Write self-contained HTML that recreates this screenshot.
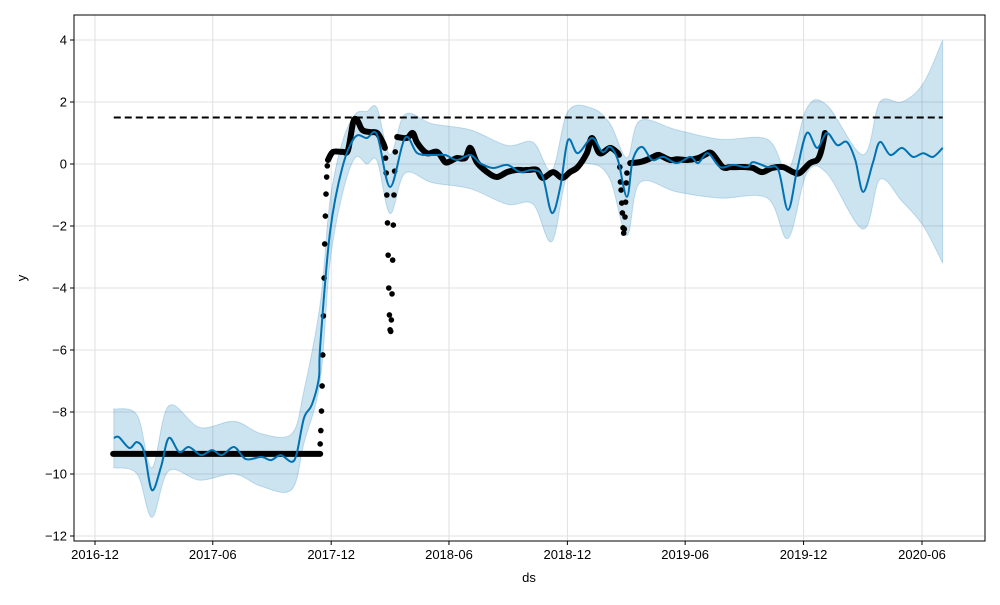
<!DOCTYPE html>
<html><head><meta charset="utf-8"><style>
body{margin:0;background:#fff;font-family:"Liberation Sans",sans-serif;}
svg text{font-family:"Liberation Sans",sans-serif;font-size:13px;fill:#000;}
</style></head><body>
<svg id="chart" width="1000" height="600" xmlns="http://www.w3.org/2000/svg">
<rect x="0" y="0" width="1000" height="600" fill="#fff"/>
<g id="grid"></g><g id="band"></g><g id="cap"></g><g id="obs"></g><g id="fc"></g><g id="axes"></g>
</svg>
<script>
// days since 2016-12-01
const xTickLabels=["2016-12","2017-06","2017-12","2018-06","2018-12","2019-06","2019-12","2020-06"];
const xTickDays=[0,182,365,547,730,912,1095,1278];
const yTicks=[-12,-10,-8,-6,-4,-2,0,2,4];
const fcDays=[29,37,53,65,76,88,102,114,130,145,164,181,196,215,233,257,272,287,304,312,323,335,346,348,363,382,402,420,436,456,479,498,521,541,559,580,595,615,637,657,677,692,706,719,731,746,768,784,796,808,822,831,845,861,878,899,920,932,947,966,986,1008,1017,1039,1056,1071,1085,1100,1116,1131,1147,1162,1175,1187,1202,1213,1229,1247,1264,1280,1295,1310];
const fcValues=[-8.84,-8.81,-9.16,-8.97,-9.29,-10.52,-9.77,-8.84,-9.29,-9.13,-9.39,-9.23,-9.39,-9.13,-9.52,-9.45,-9.55,-9.39,-9.61,-9.32,-8.19,-7.77,-6.9,-5.87,-2.23,-0.13,0.87,0.84,0.94,-0.74,0.84,0.35,0.29,0.29,0.13,0.29,0.03,-0.13,-0.03,-0.26,-0.19,-0.42,-1.58,-0.74,0.77,0.35,0.84,0.39,0.55,0.13,-1.06,0.13,0.55,0.13,0.23,0.03,0.23,0.03,0.35,-0.1,-0.03,-0.1,0.06,-0.1,-0.19,-1.48,-0.19,1.0,0.52,1.0,0.61,0.71,0.13,-0.9,0.03,0.71,0.29,0.52,0.23,0.35,0.23,0.52];
const bandDays=[29,65,88,114,162,215,257,304,323,348,363,382,402,420,436,456,479,521,580,637,677,706,731,768,796,822,842,899,966,1039,1071,1100,1131,1187,1213,1247,1280,1310];
const bandUpper=[-7.9,-8.1,-9.8,-7.8,-8.5,-8.3,-8.7,-8.7,-7.3,-4.5,-1.2,0.7,1.6,1.7,1.8,0.3,1.6,1.3,1.1,0.6,0.7,-0.2,1.7,1.8,1.3,0.2,1.4,1.1,0.8,0.8,-0.2,1.8,1.9,0.3,2.0,2.0,2.6,4.0];
const bandLower=[-9.8,-10.0,-11.4,-9.9,-10.2,-10.0,-10.4,-10.5,-9.0,-7.0,-3.2,-1.0,0.2,0.0,0.1,-1.6,-0.3,-0.6,-0.8,-1.3,-1.3,-2.5,-0.3,0.0,-0.5,-2.3,-0.6,-0.9,-1.1,-1.1,-2.4,-0.3,-0.3,-2.1,-0.5,-1.2,-2.0,-3.2];
const flatDays=[28,348];
const flatValues=[-9.35,-9.35];
const obsDays=[360,368,383,391,399,405,413,425,436,445,448,467,482,491,498,513,529,541,550,559,572,580,590,606,621,637,652,662,672,683,692,708,722,734,746,760,768,780,796,808,827,842,855,869,876,889,900,915,932,943,953,970,981,992,1005,1017,1031,1046,1063,1079,1089,1105,1116,1122,1128];
const obsValues=[0.13,0.39,0.39,0.45,1.35,1.42,1.1,1.03,1.0,0.68,0.52,0.87,0.84,1.0,0.68,0.35,0.39,0.06,0.1,0.19,0.19,0.52,0.06,-0.26,-0.42,-0.26,-0.19,-0.2,-0.19,-0.19,-0.45,-0.26,-0.45,-0.26,-0.1,0.35,0.84,0.35,0.52,0.35,0.03,0.06,0.15,0.29,0.25,0.13,0.15,0.13,0.19,0.3,0.35,-0.1,-0.1,-0.1,-0.1,-0.13,-0.26,-0.13,-0.1,-0.26,-0.29,0.03,0.13,0.4,1.0];
const dotDays=[348,349,350,351,352,353,354,355,356,357,358,359,449,450,451,452,453,454,455,456,457,458,459,460,461,462,463,464,810,811,812,813,814,815,816,817,818,819,820,821,822];
const dotValues=[-9.03,-8.6,-7.97,-7.16,-6.16,-4.9,-3.68,-2.58,-1.68,-0.97,-0.42,-0.06,0.19,-0.29,-1.0,-1.9,-2.94,-4.0,-4.87,-5.35,-5.4,-5.03,-4.19,-3.1,-1.97,-1.0,-0.23,0.39,0.29,-0.1,-0.58,-0.84,-1.26,-1.58,-2.06,-2.23,-2.1,-1.71,-1.23,-0.61,-0.29];
const capDays=[29,1310];
const capValues=[1.5,1.5];

const NS="http://www.w3.org/2000/svg";
const L=74,R=985,T=15,B=541;
const xs=d=>95+d*0.6471;
const ys=v=>164-31*v;
function mk(tag,attrs,parent){const e=document.createElementNS(NS,tag);for(const k in attrs)e.setAttribute(k,attrs[k]);parent.appendChild(e);return e;}
function smooth(pts){let d="M"+pts[0][0].toFixed(1)+","+pts[0][1].toFixed(1);
 for(let i=0;i<pts.length-1;i++){const p0=pts[i-1]||pts[i],p1=pts[i],p2=pts[i+1],p3=pts[i+2]||p2;
  const c1=[p1[0]+(p2[0]-p0[0])/6,p1[1]+(p2[1]-p0[1])/6],c2=[p2[0]-(p3[0]-p1[0])/6,p2[1]-(p3[1]-p1[1])/6];
  d+="C"+c1[0].toFixed(1)+","+c1[1].toFixed(1)+" "+c2[0].toFixed(1)+","+c2[1].toFixed(1)+" "+p2[0].toFixed(1)+","+p2[1].toFixed(1);}
 return d;}
const grid=document.getElementById('grid'),axes=document.getElementById('axes');
xTickDays.forEach((d,i)=>{const x=xs(d);
 const g=mk('line',{x1:x,x2:x,y1:T,y2:B,stroke:'#e0e0e0','stroke-width':1},grid);
 
 mk('line',{x1:x,x2:x,y1:B,y2:B+4,stroke:'#000'},axes);
 const t=mk('text',{x:x,y:B+18,'text-anchor':'middle'},axes);t.textContent=xTickLabels[i];
 });
yTicks.forEach(v=>{const y=ys(v);
 const g=mk('line',{x1:L,x2:R,y1:y,y2:y,stroke:'#e0e0e0','stroke-width':1},grid);
 
 mk('line',{x1:L-4,x2:L,y1:y,y2:y,stroke:'#000'},axes);
 const t=mk('text',{x:L-7,y:y+4.5,'text-anchor':'end'},axes);t.textContent=(v<0?'\u2212'+(-v):String(v));
 });
const frame=mk('rect',{x:L,y:T,width:R-L,height:B-T,fill:'none',stroke:'#000','stroke-width':1},axes);

const xt=mk('text',{x:529,y:582,'text-anchor':'middle'},axes);xt.textContent='ds';

const yt=mk('text',{x:26,y:278,'text-anchor':'middle',transform:'rotate(-90 26 278)'},axes);yt.textContent='y';

// band
const up=bandDays.map((d,i)=>[xs(d),ys(bandUpper[i])]);
const lo=bandDays.map((d,i)=>[xs(d),ys(bandLower[i])]).reverse();
const bd=smooth(up)+"L"+smooth(lo).slice(1)+"Z";
const band=mk('path',{d:bd,fill:'#0072B2','fill-opacity':0.2,stroke:'#0072B2','stroke-opacity':0.2,'stroke-width':1},document.getElementById('band'));

// cap
const cap=mk('line',{x1:xs(capDays[0]),x2:xs(capDays[1]),y1:ys(capValues[0]),y2:ys(capValues[1]),stroke:'#000','stroke-width':2,'stroke-dasharray':'7,4'},document.getElementById('cap'));

// observations
const og=document.getElementById('obs');
const fl=mk('line',{x1:xs(flatDays[0]),x2:xs(flatDays[1]),y1:ys(flatValues[0]),y2:ys(flatValues[1]),stroke:'#000','stroke-width':6,'stroke-linecap':'round'},og);

let seg=[];const segs=[];
obsDays.forEach((d,i)=>{if(seg.length&&d-obsDays[i-1]>18){segs.push(seg);seg=[];}seg.push([xs(d),ys(obsValues[i])]);});
segs.push(seg);
segs.forEach(s=>{const p=mk('path',{d:smooth(s),fill:'none',stroke:'#000','stroke-width':6,'stroke-linecap':'round','stroke-linejoin':'round'},og);
 });
dotDays.forEach((d,i)=>{const c=mk('circle',{cx:xs(d),cy:ys(dotValues[i]),r:2.8,fill:'#000'},og);
 });
// forecast
const fp=mk('path',{d:smooth(fcDays.map((d,i)=>[xs(d),ys(fcValues[i])])),fill:'none',stroke:'#0072B2','stroke-width':2},document.getElementById('fc'));

</script>
</body></html>
